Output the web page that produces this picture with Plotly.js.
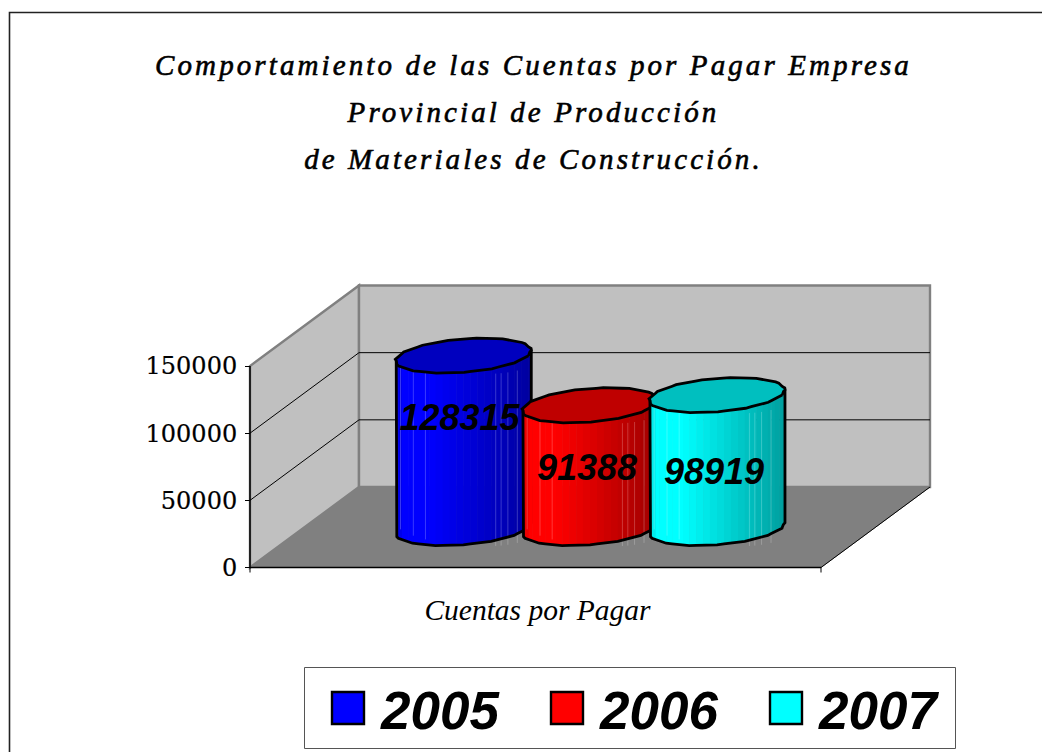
<!DOCTYPE html>
<html><head><meta charset="utf-8">
<script src="https://cdn.plot.ly/plotly-3.0.1.min.js"></script>
<style>html,body{margin:0;padding:0;background:#fff;overflow:hidden}
.legendpoints{transform:translate(-33px,0) scale(2)}
.gtitle{stroke:#000;stroke-width:.6px}
.ytick text{stroke:#000;stroke-width:.2px}
</style>
</head><body><div id="chart" style="width:1042px;height:752px"></div>
<script>
// ---- data ----
const years = ['2005', '2006', '2007'];
const cuentasPorPagar = [128315, 91388, 98919];
const tickValues = [0, 50000, 100000, 150000];
const categoryLabel = 'Cuentas por Pagar';
const baseColors = [[0, 0, 255], [255, 0, 0], [0, 255, 255]];

// ---- layout of the oblique 3D box, in page pixels ----
const W = 1042, H = 752;
const Y0PX = 567.5, PX150K = 201.5, MAXV = 150000;
const K = PX150K / MAXV;
const v2y = p => (Y0PX - p) / K;          // page pixel row -> value on the y axis
const LEFT = 250, RIGHT = 821, DX = 109, DY = 80.5;
const BASEY = v2y(528);                   // cylinder base centre row
const CX = [463.3, 590, 717];
const A = 64.5, B = 20, C = 17.5, N = 60;
const LABEL_X = [459.5, 587, 714], LABEL_Y = [421, 470.5, 475];
const SEAMS = [0.035, 0.13, 0.22, 0.74, 0.78, 0.83, 0.9];

function ring(cx, baseVal, t) {
  const wob = 1 + 0.014 * Math.cos(15 * t + 0.7);
  return [cx + wob * (A * Math.cos(t) + B * Math.sin(t)),
          baseVal + wob * C * Math.sin(t) / K];
}
function shade(f) {
  if (f < 0.035) return 0.93;
  if (f < 0.24) return 1;
  return 1 - (f - 0.24) / 0.76 * 0.38;
}
const tR = Math.atan(B / A), tL = tR + Math.PI;
const traces = [];
years.forEach((yr, i) => {
  const top = BASEY + cuentasPorPagar[i], base = baseColors[i], cx = CX[i];
  const half = Math.hypot(A, B), nFront = N / 2;
  for (let s = 0; s < nFront; s++) {
    const t0 = tL + Math.PI * s / nFront, t1 = tL + Math.PI * (s + 1) / nFront;
    const p0 = ring(cx, BASEY, t0), p1 = ring(cx, BASEY, t1);
    const q0 = ring(cx, top, t0), q1 = ring(cx, top, t1);
    const f = ((p0[0] + p1[0]) / 2 - (cx - half)) / (2 * half);
    const g = shade(f);
    const col = `rgb(${base.map(c => Math.round(c * g)).join(',')})`;
    const ov = s < nFront - 1 ? 0.6 : 0;
    traces.push({type: 'scatter', mode: 'lines', showlegend: false, hoverinfo: 'skip',
      x: [p0[0], p1[0] + ov, q1[0] + ov, q0[0], p0[0]],
      y: [p0[1], p1[1], q1[1], q0[1], p0[1]],
      fill: 'toself', fillcolor: col, line: {width: 0, color: col}});
  }
  // faint facet seams
  const sx = [], sy = [];
  SEAMS.forEach(f => {
    const x = cx - half + 2 * half * f;
    const d = (x - cx) / half;
    const yb = BASEY - Math.sqrt(Math.max(0, 1 - d * d)) * C / K + d * -5.5 / K;
    sx.push(x, x, null);
    sy.push(yb, yb + cuentasPorPagar[i], null);
  });
  traces.push({type: 'scatter', mode: 'lines', showlegend: false, hoverinfo: 'skip',
    x: sx, y: sy, line: {color: 'rgba(255,255,255,0.22)', width: 1}});
  // body outline
  const ox = [], oy = [];
  for (let s = 0; s <= nFront; s++) { const p = ring(cx, BASEY, tL + Math.PI * s / nFront); ox.push(p[0]); oy.push(p[1]); }
  const pe = ring(cx, top, tL + Math.PI), ps = ring(cx, top, tL);
  ox.push(pe[0]); oy.push(pe[1]);
  ox.unshift(ps[0]); oy.unshift(ps[1]);
  traces.push({type: 'scatter', mode: 'lines', showlegend: false, hoverinfo: 'skip',
    x: ox, y: oy, line: {color: '#000', width: 2.8}});
  // top cap
  const cxs = [], cys = [];
  for (let s = 0; s <= N; s++) { const p = ring(cx, top, 2 * Math.PI * s / N); cxs.push(p[0]); cys.push(p[1]); }
  const capCol = `rgb(${base.map(c => Math.round(c * 0.75)).join(',')})`;
  traces.push({type: 'scatter', mode: 'lines', showlegend: false, hoverinfo: 'skip',
    x: cxs, y: cys, fill: 'toself', fillcolor: capCol, line: {color: '#000', width: 2.8}});
});
// data labels
traces.push({type: 'scatter', mode: 'text', showlegend: false, hoverinfo: 'skip',
  x: LABEL_X, y: LABEL_Y.map(v2y), text: cuentasPorPagar.map(String), textposition: 'middle center',
  textfont: {family: 'Liberation Sans', size: 36, color: '#000', weight: 700, style: 'italic'}});
// legend entries
years.forEach((yr, i) => traces.push({type: 'scatter', mode: 'markers', name: yr,
  x: [null], y: [null], hoverinfo: 'skip',
  marker: {symbol: 'square', size: 32, color: `rgb(${baseColors[i].join(',')})`, line: {color: '#000', width: 1.2}}}));

// ---- box shapes ----
const shapes = [];
const poly = (pts, fill, lc, lw) => shapes.push({type: 'path', xref: 'x', yref: 'y', layer: 'below',
  path: 'M' + pts.map(p => p[0] + ',' + p[1]).join('L') + 'Z', fillcolor: fill,
  line: {color: lc, width: lw}});
const seg = (x0, y0, x1, y1, lc, lw) => shapes.push({type: 'line', xref: 'x', yref: 'y', layer: 'below',
  x0, y0, x1, y1, line: {color: lc, width: lw}});
const dv = DY / K;
const bl = LEFT + DX, br = RIGHT + DX;
poly([[LEFT, 0], [bl, dv], [bl, dv + MAXV], [LEFT, MAXV]], '#c0c0c0', '#808080', 2.4);
poly([[bl, dv], [br, dv], [br, dv + MAXV], [bl, dv + MAXV]], '#c0c0c0', '#808080', 2.4);
poly([[LEFT, 0], [bl, dv], [br, dv], [RIGHT, 0]], '#808080', '#808080', 1);
tickValues.slice(1, 3).forEach(v => {
  seg(LEFT, v, bl, v + dv, '#000', 1);
  seg(bl, v + dv, br, v + dv, '#000', 1);
});
seg(LEFT, 0, LEFT, MAXV, '#000', 1.5);
seg(LEFT, 0, RIGHT, 0, '#000', 1.5);
seg(RIGHT, 0, bl + RIGHT - LEFT, dv, '#000', 1);
seg(LEFT, 0, LEFT, -5 / K, '#000', 1);
seg(RIGHT, 0, RIGHT, -5 / K, '#000', 1);
// outer frame of the chart
shapes.push({type: 'path', xref: 'x', yref: 'y', layer: 'below',
  path: `M9.5,${v2y(800)}L9.5,${v2y(12.5)}L1100,${v2y(12.5)}`, line: {color: '#222', width: 1.6}});
// legend frame
shapes.push({type: 'rect', xref: 'x', yref: 'y', layer: 'below', x0: 304.5, x1: 955.5, y0: v2y(667.5), y1: v2y(748.5),
  fillcolor: '#fff', line: {color: '#555', width: 1}});

const serif = 'Liberation Serif';
const sp = s => `<span style="font-size:29px;letter-spacing:3.1px">${s}</span>`;
const layout = {
  width: W, height: H, margin: {l: 0, r: 0, t: 0, b: 0, pad: 0, autoexpand: false},
  paper_bgcolor: '#fff', plot_bgcolor: '#fff', hovermode: false,
  title: {text: [sp('Comportamiento de las Cuentas por Pagar Empresa'), sp('Provincial de Producción'), sp('de Materiales de Construcción.')].join('<br>'),
    font: {family: serif, size: 36, style: 'italic', color: '#000'},
    x: 533.5 / W, xanchor: 'center', xref: 'paper', y: 1 - 75 / H, yanchor: 'top', yref: 'paper'},
  xaxis: {range: [0, W], showgrid: false, zeroline: false, showline: false, anchor: 'free',
    position: (H - Y0PX) / H, tickmode: 'array', tickvals: [537.5], ticktext: [categoryLabel], ticks: '', ticklabelstandoff: 22,
    tickfont: {family: serif, size: 29.5, style: 'italic', color: '#000'}},
  yaxis: {range: [v2y(H), v2y(0)], showgrid: false, zeroline: false, showline: false, anchor: 'free',
    position: LEFT / W, tickmode: 'array', tickvals: tickValues, ticktext: tickValues.map(String),
    ticks: 'outside', ticklen: 5, tickcolor: '#000', tickwidth: 1, ticklabelstandoff: 3,
    tickfont: {family: 'DejaVu Serif', size: 24, color: '#000'}},
  shapes,
  showlegend: true,
  legend: {orientation: 'h', x: 304 / W, y: 1 - 667 / H, xanchor: 'left', yanchor: 'top',
    bgcolor: 'rgba(0,0,0,0)', borderwidth: 0, entrywidth: 137, entrywidthmode: 'pixels',
    itemwidth: 67, font: {family: 'Liberation Sans', size: 53, weight: 700, style: 'italic', color: '#000'}}
};
Plotly.newPlot('chart', traces, layout, {displayModeBar: false, responsive: false});
</script></body></html>
